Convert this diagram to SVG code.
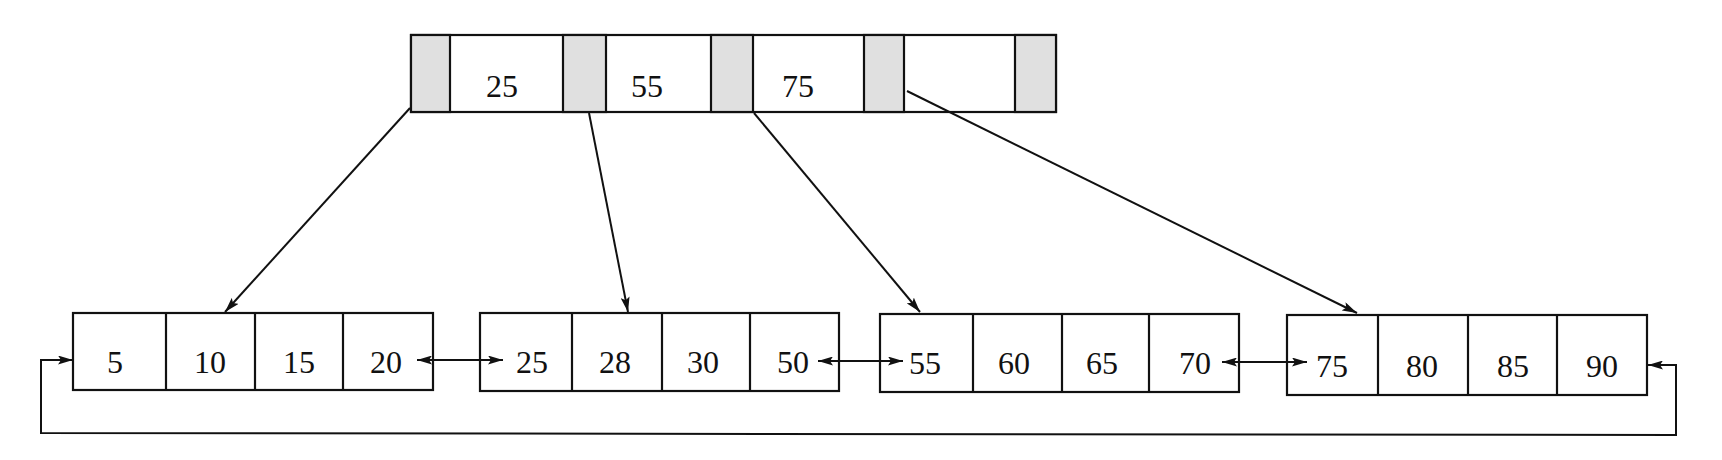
<svg xmlns="http://www.w3.org/2000/svg" width="1722" height="460" viewBox="0 0 1722 460">
<style>
.box{fill:#fff;stroke:#111;stroke-width:2.2}
.sh{fill:#e0e0e0;stroke:#111;stroke-width:2.2}
.div{stroke:#111;stroke-width:2.2}
.t{font-family:"Liberation Serif","Times New Roman",serif;font-size:32px;fill:#111;text-anchor:middle}
.c{fill:none;stroke:#111;stroke-width:2}
</style>
<defs>
<marker id="ah" viewBox="0 0 15 9" refX="15" refY="4.5" markerWidth="15" markerHeight="9" markerUnits="userSpaceOnUse" orient="auto-start-reverse">
<path d="M0,0 L15,4.5 L0,9 L3,4.5 z" fill="#111"/>
</marker>
</defs>
<rect width="1722" height="460" fill="#fff"/>
<g id="root">
<rect class="box" x="411" y="35" width="645" height="77"/>
<rect class="sh" x="411" y="35" width="39" height="77"/>
<rect class="sh" x="563" y="35" width="43" height="77"/>
<rect class="sh" x="711" y="35" width="42" height="77"/>
<rect class="sh" x="864" y="35" width="40" height="77"/>
<rect class="sh" x="1015" y="35" width="41" height="77"/>
<text class="t" x="502" y="97">25</text>
<text class="t" x="647" y="97">55</text>
<text class="t" x="798" y="97">75</text>
</g>
<g id="leaf1">
<rect class="box" x="73" y="313" width="360" height="77"/>
<line class="div" x1="166" y1="313" x2="166" y2="390"/>
<line class="div" x1="255" y1="313" x2="255" y2="390"/>
<line class="div" x1="343" y1="313" x2="343" y2="390"/>
<text class="t" x="115" y="373">5</text>
<text class="t" x="210" y="373">10</text>
<text class="t" x="299" y="373">15</text>
<text class="t" x="386" y="373">20</text>
</g>
<g id="leaf2">
<rect class="box" x="480" y="313" width="359" height="78"/>
<line class="div" x1="572" y1="313" x2="572" y2="391"/>
<line class="div" x1="662" y1="313" x2="662" y2="391"/>
<line class="div" x1="750" y1="313" x2="750" y2="391"/>
<text class="t" x="532" y="373">25</text>
<text class="t" x="615" y="373">28</text>
<text class="t" x="703" y="373">30</text>
<text class="t" x="793" y="373">50</text>
</g>
<g id="leaf3">
<rect class="box" x="880" y="314" width="359" height="78"/>
<line class="div" x1="973" y1="314" x2="973" y2="392"/>
<line class="div" x1="1062" y1="314" x2="1062" y2="392"/>
<line class="div" x1="1149" y1="314" x2="1149" y2="392"/>
<text class="t" x="925" y="374">55</text>
<text class="t" x="1014" y="374">60</text>
<text class="t" x="1102" y="374">65</text>
<text class="t" x="1195" y="374">70</text>
</g>
<g id="leaf4">
<rect class="box" x="1287" y="315" width="360" height="80"/>
<line class="div" x1="1378" y1="315" x2="1378" y2="395"/>
<line class="div" x1="1468" y1="315" x2="1468" y2="395"/>
<line class="div" x1="1557" y1="315" x2="1557" y2="395"/>
<text class="t" x="1332" y="377">75</text>
<text class="t" x="1422" y="377">80</text>
<text class="t" x="1513" y="377">85</text>
<text class="t" x="1602" y="377">90</text>
</g>
<g id="connectors">
<line class="c" x1="410" y1="108" x2="225" y2="312" marker-end="url(#ah)"/>
<line class="c" x1="589" y1="113" x2="628" y2="312" marker-end="url(#ah)"/>
<line class="c" x1="754" y1="113" x2="920" y2="312" marker-end="url(#ah)"/>
<line class="c" x1="907" y1="91" x2="1357" y2="313" marker-end="url(#ah)"/>
<line class="c" x1="417" y1="360" x2="503" y2="360" marker-start="url(#ah)" marker-end="url(#ah)"/>
<line class="c" x1="818" y1="361" x2="903" y2="361" marker-start="url(#ah)" marker-end="url(#ah)"/>
<line class="c" x1="1222" y1="362" x2="1307" y2="362" marker-start="url(#ah)" marker-end="url(#ah)"/>
<polyline class="c" points="1648,365 1676,365 1676,435 41,433 41,360 73,360" marker-start="url(#ah)" marker-end="url(#ah)"/>
</g>
</svg>
